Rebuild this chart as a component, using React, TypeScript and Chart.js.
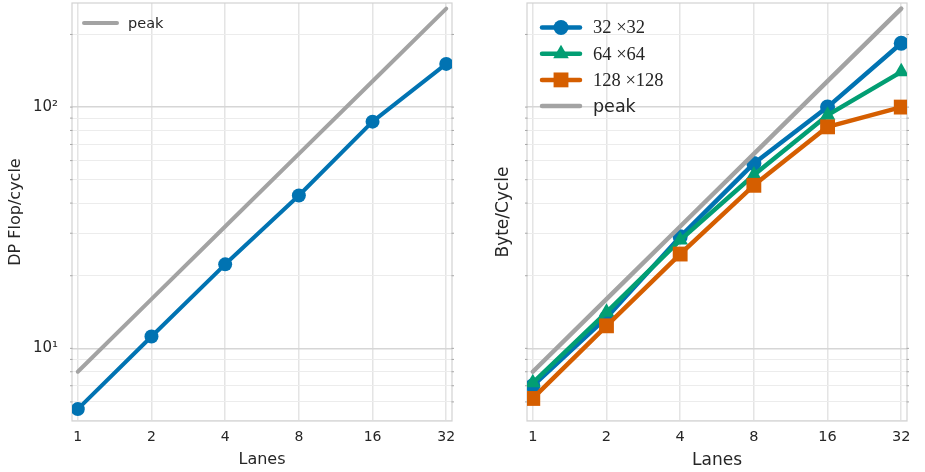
import { useEffect, useRef } from 'react';
import { Chart, registerables } from 'chart.js';
Chart.register(...registerables);

// ---- data ----
const lanes = [1, 2, 4, 8, 16, 32];
const peakFlop = [8, 16, 32, 64, 128, 256];
const dpFlop = [5.6, 11.2, 22.3, 43, 87, 151];
const peakByte = [8, 16, 32, 64, 128, 256];
const byte32 = [7.0, 13.4, 29, 58.4, 100, 184];
const byte64 = [7.2, 14.1, 28.1, 52.3, 92.6, 140];
const byte128 = [6.2, 12.4, 24.6, 47.4, 82.8, 100];
const yGridValues = [5, 6, 7, 8, 9, 10, 20, 30, 40, 50, 60, 70, 80, 90, 100, 200];
const yMajorValues = [10, 100];
const yMajorLabels = ['10¹', '10²'];
const yMin = 5;
const yMax = 270;
const xMin = 0.947;
const xMax = 33.78;

const BLUE = '#0173b2';
const GREEN = '#029e73';
const ORANGE = '#d55e00';
const GRAY = '#a3a3a3';
const TEXT = '#262626';
const SANS = "'DejaVu Sans', sans-serif";
const SERIF = "'Liberation Serif', 'DejaVu Serif', serif";

function drawMarker(ctx: CanvasRenderingContext2D, style: string, x: number, y: number, r: number, color: string) {
  ctx.fillStyle = color;
  ctx.beginPath();
  if (style === 'circle') {
    ctx.arc(x, y, r, 0, Math.PI * 2);
  } else if (style === 'triangle') {
    ctx.moveTo(x, y - r);
    ctx.lineTo(x + r * Math.sin((2 * Math.PI) / 3), y - r * Math.cos((2 * Math.PI) / 3));
    ctx.lineTo(x + r * Math.sin((4 * Math.PI) / 3), y - r * Math.cos((4 * Math.PI) / 3));
    ctx.closePath();
  } else if (style === 'rect') {
    const s = r * Math.SQRT1_2;
    ctx.rect(x - s, y - s, 2 * s, 2 * s);
  }
  ctx.fill();
}

const lineLegend = {
  id: 'lineLegend',
  afterDraw(chart: any, _args: any, opts: any) {
    const { ctx } = chart;
    ctx.save();
    chart.data.datasets
      .filter((d: any) => !d.hideInLegend)
      .forEach((ds: any, i: number) => {
        const y = opts.top + i * opts.rowHeight;
        const x0 = opts.left;
        const x1 = opts.left + opts.lineLength;
        ctx.strokeStyle = ds.borderColor;
        ctx.lineWidth = ds.borderWidth;
        ctx.lineCap = 'round';
        ctx.beginPath();
        ctx.moveTo(x0, y);
        ctx.lineTo(x1, y);
        ctx.stroke();
        if (ds.pointRadius > 0) {
          drawMarker(ctx, ds.pointStyle, (x0 + x1) / 2, y, ds.pointRadius, ds.borderColor);
        }
        ctx.fillStyle = TEXT;
        const serif = !!ds.legendFont;
        ctx.font = `${serif ? opts.serifSize : opts.fontSize}px ${ds.legendFont || SANS}`;
        ctx.textAlign = 'left';
        ctx.textBaseline = 'middle';
        ctx.fillText(ds.label, x1 + opts.textGap, y + 1);
      });
    ctx.restore();
  },
};

const frame = {
  id: 'frame',
  beforeDatasetsDraw(chart: any) {
    const { ctx, chartArea: a } = chart;
    ctx.save();
    ctx.strokeStyle = '#d2d2d2';
    ctx.lineWidth = 1.2;
    ctx.strokeRect(a.left, a.top, a.right - a.left, a.bottom - a.top);
    const ys = chart.scales.y;
    ctx.strokeStyle = '#a8a8a8';
    ctx.lineWidth = 1;
    ys.ticks.forEach((t: any) => {
      const p = ys.getPixelForValue(t.value);
      if (p < a.top - 0.5 || p > a.bottom - 1) return;
      ctx.beginPath();
      ctx.moveTo(a.left - 2, p);
      ctx.lineTo(a.left + 0.5, p);
      ctx.moveTo(a.right - 0.5, p);
      ctx.lineTo(a.right + 2, p);
      ctx.stroke();
    });
    ctx.restore();
  },
};

function makeOptions(p: {
  yTitle: string; yTitleSize: number; yTitlePad: number; yWidth: number; showYLabels: boolean;
  xTitleSize: number; xTitlePad: number; tickSize: number; yTickSize: number; padRight: number;
  legend: any;
}) {
  return {
    responsive: true,
    maintainAspectRatio: false,
    animation: false as const,
    layout: { autoPadding: false, padding: { left: 0, right: p.padRight, top: 3, bottom: 0 } },
    plugins: {
      legend: { display: false },
      tooltip: { enabled: false },
      lineLegend: p.legend,
    },
    scales: {
      x: {
        type: 'logarithmic' as const,
        min: xMin,
        max: xMax,
        afterBuildTicks: (scale: any) => {
          scale.ticks = lanes.map((v) => ({ value: v }));
        },
        afterFit: (scale: any) => {
          scale.height = 51;
          scale.paddingLeft = 0;
          scale.paddingRight = 0;
        },
        border: { display: false },
        grid: { color: '#e4e4e4', lineWidth: 1.5, drawTicks: false },
        ticks: {
          autoSkip: false,
          maxRotation: 0,
          padding: 8,
          color: TEXT,
          font: { family: SANS, size: p.tickSize },
          callback: (v: any) => String(v),
        },
        title: {
          display: true,
          text: 'Lanes',
          color: TEXT,
          font: { family: SANS, size: p.xTitleSize },
          padding: { top: 0, bottom: p.xTitlePad },
        },
      },
      y: {
        type: 'logarithmic' as const,
        min: yMin,
        max: yMax,
        afterBuildTicks: (scale: any) => {
          scale.ticks = yGridValues.map((v) => ({ value: v, major: yMajorValues.includes(v) }));
        },
        afterFit: (scale: any) => {
          scale.width = p.yWidth;
          scale.paddingTop = 0;
          scale.paddingBottom = 0;
        },
        border: { display: false },
        grid: {
          drawTicks: false,
          color: (c: any) => (c.tick && yMajorValues.includes(c.tick.value) ? '#d6d6d6' : '#ececec'),
          lineWidth: (c: any) => (c.tick && yMajorValues.includes(c.tick.value) ? 1.5 : 1.1),
        },
        ticks: {
          autoSkip: false,
          padding: 14,
          color: TEXT,
          font: { family: SANS, size: p.yTickSize },
          callback: (v: any) => {
            if (!p.showYLabels) return '';
            const k = yMajorValues.indexOf(Number(v));
            return k >= 0 ? yMajorLabels[k] : '';
          },
        },
        title: {
          display: true,
          text: p.yTitle,
          color: TEXT,
          font: { family: SANS, size: p.yTitleSize },
          padding: { top: p.yTitlePad, bottom: 0 },
        },
      },
    },
  };
}

function pts(vals: number[]) {
  return lanes.map((x, i) => ({ x, y: vals[i] }));
}

function lineDs(label: string, vals: number[], color: string, width: number, style: string, radius: number, order: number, legendFont?: string) {
  return {
    label,
    data: pts(vals),
    borderColor: color,
    backgroundColor: color,
    borderWidth: width,
    pointStyle: style,
    pointRadius: radius,
    pointBackgroundColor: color,
    pointBorderColor: color,
    pointBorderWidth: 0,
    pointHoverRadius: radius,
    borderJoinStyle: 'round' as const,
    borderCapStyle: 'round' as const,
    tension: 0,
    clip: 0,
    order,
    legendFont,
  };
}

function useChart(ref: any, config: any) {
  useEffect(() => {
    const chart = new Chart(ref.current, config);
    return () => chart.destroy();
  }, []);
}

export default function App() {
  const leftRef = useRef<HTMLCanvasElement>(null);
  const rightRef = useRef<HTMLCanvasElement>(null);

  useChart(leftRef, {
    type: 'line',
    data: {
      datasets: [
        lineDs('peak', peakFlop, GRAY, 4, 'circle', 0, 0),
        { ...lineDs('DP', dpFlop, BLUE, 4, 'circle', 7, 1), hideInLegend: true },
      ],
    },
    options: makeOptions({
      yTitle: 'DP Flop/cycle', yTitleSize: 16, yTitlePad: 6, yWidth: 72, showYLabels: true,
      xTitleSize: 16, xTitlePad: 3, tickSize: 14, yTickSize: 15, padRight: 10,
      legend: { left: 84, top: 23, rowHeight: 26, lineLength: 33, textGap: 11, fontSize: 14.5, serifSize: 14.5 },
    }),
    plugins: [frame, lineLegend],
  });

  useChart(rightRef, {
    type: 'line',
    data: {
      datasets: [
        lineDs('32 ×32', byte32, BLUE, 4.5, 'circle', 7.5, 3, SERIF),
        lineDs('64 ×64', byte64, GREEN, 4.5, 'triangle', 9, 2, SERIF),
        lineDs('128 ×128', byte128, ORANGE, 4.5, 'rect', 10.5, 1, SERIF),
        lineDs('peak', peakByte, GRAY, 4.5, 'circle', 0, 0),
      ],
    },
    options: makeOptions({
      yTitle: 'Byte/Cycle', yTitleSize: 17, yTitlePad: 31.5, yWidth: 65, showYLabels: false,
      xTitleSize: 17, xTitlePad: 1, tickSize: 14.5, yTickSize: 15, padRight: 18,
      legend: { left: 80, top: 27.5, rowHeight: 26.2, lineLength: 38, textGap: 13, fontSize: 17.5, serifSize: 18.5 },
    }),
    plugins: [frame, lineLegend],
  });

  return (
    <div style={{ position: 'fixed', left: 0, top: 0, width: 925, height: 472, background: '#fff' }}>
      <div style={{ position: 'absolute', left: 0, top: 0, width: 462, height: 472 }}>
        <canvas ref={leftRef} />
      </div>
      <div style={{ position: 'absolute', left: 462, top: 0, width: 463, height: 472 }}>
        <canvas ref={rightRef} />
      </div>
    </div>
  );
}
